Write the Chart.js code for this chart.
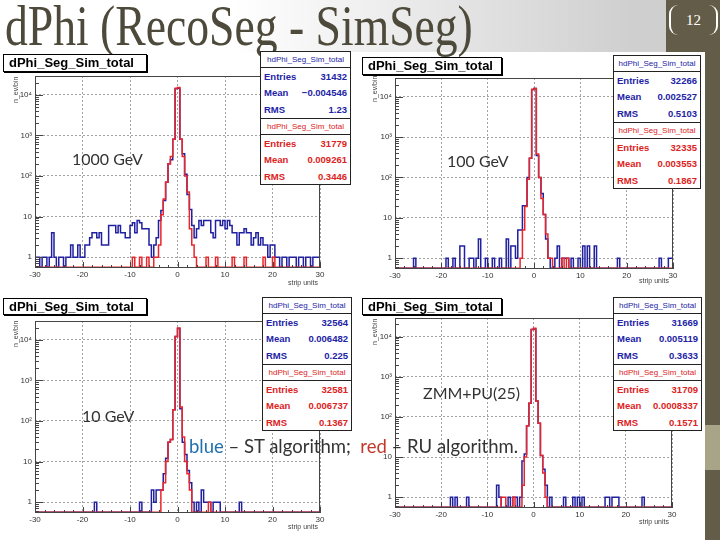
<!DOCTYPE html>
<html>
<head>
<meta charset="utf-8">
<script src="https://cdn.jsdelivr.net/npm/chart.js@4.4.0/dist/chart.umd.min.js"></script>
<style>
  body { margin: 0; width: 720px; height: 540px; overflow: hidden; background: #fff; position: relative;
         font-family: "Liberation Sans", Arial, sans-serif; }
  .abs { position: absolute; }
  #topbar { left: 0; top: 0; width: 666px; height: 52px; background: linear-gradient(to right, #fff 0%, #fff 35%, #cfcfcf 95%); }
  #title { left: 5px; top: -2px; font-family: "Liberation Serif", serif; font-size: 56px; line-height: 56px;
           color: #4d4a3b; white-space: nowrap; transform: scaleX(0.815); transform-origin: left top; }
  #band1 { left: 666px; top: 0; width: 54px; height: 52px; background: #625c48; }
  #band2 { left: 705px; top: 52px; width: 15px; height: 488px; background: #625c48; }
  #band3 { left: 705px; top: 425px; width: 15px; height: 45px; background: #a7a487; }
  #pagenum { left: 669px; top: 5px; width: 45px; height: 30px; border-left: 2px solid #fff; border-right: 2px solid #fff;
             border-radius: 9px; color: #fff; font-family: "Liberation Serif", serif; font-size: 15px;
             line-height: 30px; text-align: center; }
  canvas { position: absolute; }
  .hbox { border: 1px solid #000; box-shadow: 1px 1px 0 #000; background: #fff; font-weight: bold; font-size: 13px;
          line-height: 16px; padding-left: 5px; box-sizing: border-box; white-space: nowrap; }
  .stats { border: 1px solid #222; background: #fff; box-sizing: border-box; }
  .sec { height: 66px; box-sizing: border-box; }
  .sec + .sec { border-top: 1px solid #222; }
  .shdr { height: 15px; font-size: 8px; line-height: 15px; text-align: center; border-bottom: 1px solid #222; white-space: nowrap; }
  .srow { height: 16.5px; display: flex; justify-content: space-between; align-items: center; padding: 0 3px;
          font-size: 9.5px; font-weight: bold; }
  .blue { color: #2323a6; }
  .red { color: #dd2222; }
  .ytitle { font-size: 7px; color: #444; transform: rotate(-90deg); transform-origin: left top; white-space: nowrap; }
  .xtitle { font-size: 7px; color: #444; white-space: nowrap; }
  .slide { font-family: Lato, "Open Sans", sans-serif; font-size: 16px; line-height: 18px; color: #333; white-space: nowrap; }
  .algo { font-size: 18.5px; line-height: 22px; }
</style>
</head>
<body>
<div class="abs" id="topbar"></div>
<div class="abs" id="band1"></div>
<div class="abs" id="band2"></div>
<div class="abs" id="band3"></div>
<div class="abs" id="title">dPhi (RecoSeg - SimSeg)</div>
<div class="abs" id="pagenum">12</div>

<script>
// histogram binning and axis ticks
const histLow = -30;
const histBin = 0.5;
const xTickValues = [-30, -20, -10, 0, 10, 20, 30];
const yTickValues = [1, 10, 100, 1000, 10000];
const yTickLabels = ["1", "10", "10²", "10³", "10⁴"];
const yMin = 0.54;
const yMax = 29000;

// counts per 0.5-wide bin, -30 .. 30 (120 bins)
const blue1000 = [
  1,1,0,1,1,0,1,4,1,0,1,1,0,1,1,2,1,1,2,1,
  1,2,2,3,4,4,3,4,2,2,2,6,6,6,4,6,4,4,3,3,
  6,7,4,8,7,5,5,5,2,1,2,3,8,14,25,70,200,250,800,14000,
  14500,800,350,110,35,15,6,3,5,8,6,8,8,8,4,3,8,8,6,8,
  5,8,6,4,4,2,4,4,5,4,4,2,3,4,2,3,2,2,1,2,
  2,1,1,0,1,1,0,1,1,1,0,1,1,0,1,1,0,1,1,1];
const red1000 = [
  0,0,0,0,0,0,0,0,0,0,0,0,0,0,0,0,0,0,0,0,
  0,0,0,0,0,0,0,0,0,0,0,0,0,0,0,0,0,0,0,0,
  0,1,0,0,1,0,0,1,0,0,1,1,2,11,27,70,200,300,800,14500,
  15000,800,300,100,40,5,2,1,0,0,0,0,1,0,0,0,1,0,0,0,
  0,0,0,1,0,0,0,0,1,0,0,0,0,0,0,0,1,0,0,0,
  1,0,0,0,0,0,0,0,0,0,0,0,0,0,0,0,0,0,0,0];
const blue100 = [
  0,0,0,0,0,0,0,0,1,0,0,0,0,0,0,0,0,0,0,0,
  0,0,1,0,0,1,0,0,2,2,0,0,1,1,0,1,3,0,0,1,
  0,0,1,0,0,1,0,0,3,0,2,2,1,5,5,20,20,100,300,15000,
  16000,350,100,40,12,3,1,0,0,1,2,0,1,1,1,0,1,0,0,1,
  0,2,0,2,0,0,2,0,0,0,0,0,0,0,0,0,1,0,0,0,
  0,0,0,0,0,0,0,0,0,0,0,0,0,0,1,0,0,0,1,1];
const red100 = [
  0,0,0,0,0,0,0,0,0,0,0,0,0,0,0,0,0,0,0,0,
  0,0,0,0,0,0,0,0,0,0,0,0,0,0,0,0,0,0,0,0,
  0,0,0,0,0,0,0,0,0,0,0,0,0,0,1,5,19,90,300,15000,
  16000,380,100,30,12,4,1,1,0,0,0,0,1,0,1,0,0,0,0,0,
  0,0,0,0,0,0,0,0,0,0,0,0,0,0,0,0,0,0,0,0,
  0,0,0,0,0,0,0,0,0,0,0,0,0,0,0,0,0,0,0,0];
const blue10 = [
  0,0,0,0,0,0,0,0,0,0,0,0,0,0,0,0,0,0,0,0,
  0,0,0,0,0,1,0,0,0,0,0,0,0,0,0,0,0,0,0,0,
  0,0,0,0,1,0,0,0,0,2,1,2,2,2,5,12,30,35,190,12000,
  19000,200,30,15,6,3,1,0,1,0,2,1,1,1,0,1,1,1,0,0,
  0,0,0,0,0,0,1,0,0,0,0,0,0,0,0,0,0,0,0,0,
  0,0,0,0,0,0,0,0,0,0,0,0,0,0,0,0,0,0,0,0];
const red10 = [
  0,0,0,0,0,0,0,0,0,0,0,0,0,0,0,0,0,0,0,0,
  0,0,0,0,0,0,0,0,0,0,0,0,0,0,0,0,0,0,0,0,
  0,0,0,0,0,0,0,0,0,0,0,0,0,2,3,10,30,35,190,12000,
  19500,220,40,10,5,2,0,0,0,0,0,0,0,1,0,0,0,0,0,0,
  0,0,0,0,0,0,0,0,0,0,0,0,0,0,0,0,0,0,0,0,
  0,0,0,0,0,0,0,0,0,0,0,0,0,0,0,0,0,0,0,0];
const bluePU = [
  0,0,0,0,0,0,0,0,0,0,0,0,0,0,0,0,0,0,0,0,
  0,0,0,0,1,0,1,0,0,0,0,1,0,0,0,0,0,0,0,0,
  0,0,0,0,2,1,0,0,0,1,0,1,1,0,1,8,12,60,220,15000,
  15500,250,70,11,5,2,0,1,0,0,0,0,0,1,0,0,0,1,0,1,
  0,1,0,0,0,0,0,0,0,0,0,1,1,0,1,1,1,0,0,0,
  0,0,0,0,0,0,0,1,0,0,0,0,0,0,0,0,0,0,0,0];
const redPU = [
  0,0,0,0,0,0,0,0,0,0,0,0,0,0,0,0,0,0,0,0,
  0,0,0,0,0,0,0,0,0,0,0,0,0,0,0,0,0,0,0,0,
  0,0,0,0,0,0,1,1,0,0,0,1,0,0,0,2,10,60,220,15000,
  16000,250,70,11,4,1,0,0,0,0,0,0,0,0,0,0,0,0,0,0,
  0,0,0,0,0,0,0,0,0,0,0,0,0,0,0,0,0,0,0,0,
  0,0,0,0,0,0,0,0,0,0,0,0,0,0,0,0,0,0,0,0];

// stat box texts: [entries, mean, rms]
const statsBlue = [["31432", "−0.004546", "1.23"], ["32266", "0.002527", "0.5103"],
                   ["32564", "0.006482", "0.225"], ["31669", "0.005119", "0.3633"]];
const statsRed = [["31779", "0.009261", "0.3446"], ["32335", "0.003553", "0.1867"],
                  ["32581", "0.006737", "0.1367"], ["31709", "0.0008337", "0.1571"]];
const panelLabels = ["1000 GeV", "100 GeV", "10 GeV", "ZMM+PU(25)"];
const histName = "hdPhi_Seg_Sim_total";
const frameTitle = "dPhi_Seg_Sim_total";

const blueColor = "#2020a0";
const redColor = "#e8262a";

// geometry of the four ROOT canvases
const panels = [
  { blue: blue1000, red: red1000, canvas: [0, 48, 352, 242], area: [35, 32, 28, 22],
    hbox: [3, 54, 144, 18], stats: [260, 51, 91], ytitle: [12, 103], xtitle: [288, 279], label: [72, 150] },
  { blue: blue100, red: red100, canvas: [357, 50, 348, 240], area: [38, 32, 28, 21],
    hbox: [362, 57, 140, 18], stats: [613, 55, 88], ytitle: [371, 102], xtitle: [639, 277], label: [447, 152] },
  { blue: blue10, red: red10, canvas: [0, 292, 352, 243], area: [35, 32, 29, 22],
    hbox: [3, 298, 144, 17], stats: [262, 297, 90], ytitle: [12, 347], xtitle: [288, 523], label: [82, 407] },
  { blue: bluePU, red: redPU, canvas: [357, 292, 348, 240], area: [38, 33, 26, 24],
    hbox: [362, 298, 140, 17], stats: [613, 297, 89], ytitle: [371, 345], xtitle: [639, 518], label: [423, 384] },
];

function steps(counts) {
  const floor = yMin * 1.04;
  const pts = counts.map((c, i) => ({ x: histLow + i * histBin, y: Math.max(c, floor) }));
  pts.push({ x: histLow + counts.length * histBin, y: Math.max(counts[counts.length - 1], floor) });
  return pts;
}

// ROOT-like frame with inward tick marks
const rootFrame = {
  id: "rootFrame",
  afterDatasetsDraw(chart) {
    const { ctx, chartArea: a, scales: { x, y } } = chart;
    ctx.save();
    ctx.strokeStyle = "#444";
    ctx.lineWidth = 1;
    ctx.strokeRect(Math.round(a.left) + 0.5, Math.round(a.top) + 0.5, Math.round(a.width) - 1, Math.round(a.height) - 1);
    ctx.beginPath();
    for (let d = -1; d <= 4; d++) {
      for (let k = 1; k < 10; k++) {
        const v = k * Math.pow(10, d);
        if (v < yMin || v > yMax) continue;
        const py = Math.round(y.getPixelForValue(v)) + 0.5;
        const len = k === 1 ? 8 : 4;
        ctx.moveTo(a.left, py);
        ctx.lineTo(a.left + len, py);
      }
    }
    for (let u = -30; u <= 30; u += 2) {
      const px = Math.round(x.getPixelForValue(u)) + 0.5;
      const len = u % 10 === 0 ? 6 : 3;
      ctx.moveTo(px, a.bottom);
      ctx.lineTo(px, a.bottom - len);
    }
    ctx.stroke();
    ctx.restore();
  }
};

function addDiv(cls, left, top, html, extra) {
  const d = document.createElement("div");
  d.className = "abs " + cls;
  d.style.left = left + "px";
  d.style.top = top + "px";
  if (extra) Object.assign(d.style, extra);
  d.innerHTML = html;
  document.body.appendChild(d);
  return d;
}

function statSection(colorCls, vals) {
  const names = ["Entries", "Mean", "RMS"];
  let h = '<div class="sec ' + colorCls + '"><div class="shdr">' + histName + "</div>";
  names.forEach((n, i) => {
    h += '<div class="srow"><span>' + n + "</span><span>" + vals[i] + "</span></div>";
  });
  return h + "</div>";
}

panels.forEach((p, idx) => {
  const [cl, ct, cw, chh] = p.canvas;
  const [padL, padR, padT, padB] = p.area;
  const cv = document.createElement("canvas");
  cv.width = cw;
  cv.height = chh;
  cv.style.left = cl + "px";
  cv.style.top = ct + "px";
  document.body.appendChild(cv);

  new Chart(cv.getContext("2d"), {
    type: "line",
    data: {
      datasets: [
        { label: "RU", data: steps(p.red), borderColor: redColor, borderWidth: 1.5, stepped: true,
          pointRadius: 0, fill: false, tension: 0 },
        { label: "ST", data: steps(p.blue), borderColor: blueColor, borderWidth: 1.5, stepped: true,
          pointRadius: 0, fill: false, tension: 0 },
      ],
    },
    options: {
      responsive: false,
      animation: false,
      events: [],
      layout: { padding: { left: 0, right: padR, top: padT, bottom: 0 } },
      plugins: { legend: { display: false }, tooltip: { enabled: false } },
      scales: {
        x: {
          type: "linear",
          min: -30,
          max: 30,
          afterFit: (s) => { s.height = padB; },
          afterBuildTicks: (s) => { s.ticks = xTickValues.map((v) => ({ value: v })); },
          ticks: { autoSkip: false, maxRotation: 0, padding: 2, color: "#333",
                   font: { family: "Liberation Sans", size: 8 } },
          grid: { color: "#8c8c8c", lineWidth: 0.8, drawTicks: false },
          border: { display: false, dash: [2, 2] },
        },
        y: {
          type: "logarithmic",
          min: yMin,
          max: yMax,
          afterFit: (s) => { s.width = padL; },
          afterBuildTicks: (s) => { s.ticks = yTickValues.map((v) => ({ value: v })); },
          ticks: { autoSkip: false, padding: 3, color: "#333", font: { family: "Liberation Sans", size: 8 },
                   callback: (v) => yTickLabels[yTickValues.indexOf(v)] },
          grid: { color: "#8c8c8c", lineWidth: 0.8, drawTicks: false },
          border: { display: false, dash: [2, 2] },
        },
      },
    },
    plugins: [rootFrame],
  });

  const [hl, ht, hw, hh] = p.hbox;
  addDiv("hbox", hl, ht, frameTitle, { width: hw + "px", height: hh + "px", lineHeight: (hh - 2) + "px" });
  const [sl, st, sw] = p.stats;
  addDiv("stats", sl, st, statSection("blue", statsBlue[idx]) + statSection("red", statsRed[idx]), { width: sw + "px" });
  addDiv("ytitle", p.ytitle[0], p.ytitle[1], "n_ev/bin");
  addDiv("xtitle", p.xtitle[0], p.xtitle[1], "strip units");
  addDiv("slide", p.label[0], p.label[1], panelLabels[idx]);
});

addDiv("slide algo", 189, 435,
  '<span style="color:#1f6fae">blue</span> – ST algorithm;&nbsp; <span style="color:#c0392b">red</span> – RU algorithm.');
</script>
</body>
</html>
